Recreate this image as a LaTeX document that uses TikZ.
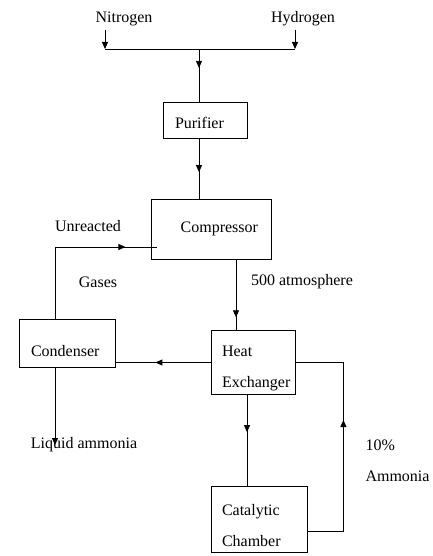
\documentclass[tikz,border=0pt]{standalone}
\usepackage{fontspec}
\setmainfont{Liberation Serif}
\usetikzlibrary{arrows.meta,decorations.markings}

\begin{document}
\begin{tikzpicture}[x=1pt,y=-1pt,font=\fontsize{16}{31}\selectfont]
\tikzstyle{lien}=[line width=0.8pt]
\tikzstyle{fin}=[lien,-{Triangle[width=6pt,length=7pt]}]
\tikzset{boite/.style args={#1/#2/#3/#4}{draw,line width=0.8pt,text width=#1pt,minimum height=#2pt,inner xsep=#3pt,align=left,
  execute at begin node={\rule{0pt}{#4pt}}},
fleche/.style={lien,postaction={decorate},decoration={markings,mark=at position #1 with {\arrow{Triangle[width=6pt,length=7pt]}}}}}
\useasboundingbox (0,0) rectangle (433,556);

\node (N) at (124,19) {Nitrogen};
\node (H) at (303,19) {Hydrogen};
\coordinate (N1) at (105,49);
\coordinate (H1) at (295,49);
\coordinate (M) at (199,49);
\node[boite={60/36/12/17}] (P) at (205,120) {Purifier};
\node[boite={94/60/13/0},align=right] (C) at (211,229) {Compressor};
\node[boite={72/48/12/27}] (Co) at (67,343) {Condenser};
\node[boite={62/63/11/23}] (E) at (253,362.5) {Heat\\Exchanger};
\node[boite={74/66/11/25}] (R) at (259,519) {Catalytic\\Chamber};
\node (U) at (88,226) {Unreacted};
\node (G) at (98,282) {Gases};
\node (A) at (302,282) {500 atmosphere};
\node (L) at (84,445) {Liquid ammonia};
\node[align=left,anchor=west] (D) at (362,461) {10\%\\Ammonia};

\draw[fin] (N.south -| N1) -- (N1);
\draw[fin] (H.south -| H1) -- (H1);
\draw[lien] (N1) -- (H1);
\draw[fleche=0.36] (M) -- (P.north -| M);
\draw[fleche=0.56] (P.south -| M) -- (C.north -| M);
\draw[fleche=142pt] ([xshift=-12pt]Co.north) |- ([shift={(6,18)}]C.west);
\draw[fleche=0.82] ([xshift=25pt]C.south) -- ([xshift=25pt]C.south |- E.north);
\draw[fleche=0.58] (E.west) -- (E.west -| Co.east);
\draw[fleche=0.41] ([xshift=-6pt]E.south) -- ([xshift=-6pt]E.south |- R.north);
\draw[fleche=147pt] ([yshift=-12pt]R.east) -- ++(36,0) |- (E.east);
\draw[fin] ([xshift=-12pt]Co.south) -- ([xshift=-12pt]Co.south |- L.center);

\end{tikzpicture}
\end{document}
